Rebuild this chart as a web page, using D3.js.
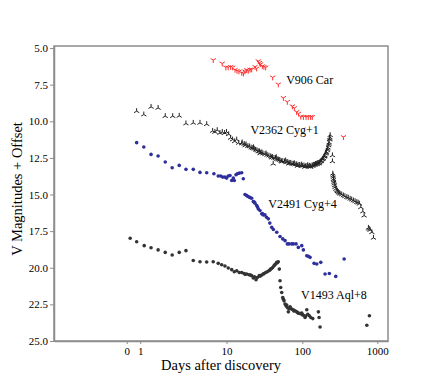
<!DOCTYPE html>
<html>
<head>
<meta charset="utf-8">
<script src="https://cdn.jsdelivr.net/npm/d3@7"></script>
<style>
body { margin: 0; background: #fff; }
text { font-family: "Liberation Serif", "DejaVu Serif", serif; fill: #000; }
</style>
</head>
<body>
<div id="chart"></div>
<script>
// light curves: [days after discovery, V magnitude]
var v906Car = [[6.75,5.82],[8.8,6.05],[9.8,6.32],[10.5,6.32],[11.3,6.28],[12.0,6.32],[12.9,6.48],[13.7,6.55],
	[14.5,6.59],[15.8,6.69],[16.6,6.73],[17.4,6.59],[18.3,6.50],[19.2,6.55],[20.3,6.46],[21.3,6.46],[23.6,6.28],
	[24.8,6.39],[26.0,5.89],[27.0,6.0],[28.0,6.09],[29.4,6.23],[30.9,6.28],[32.6,6.32],[40.4,7.00],[47.9,7.48],
	[55.9,8.40],[63.1,8.67],[73.6,8.97],[78.2,9.09],[84,9.36],[89.1,9.47],[95.3,9.68],[103.2,9.70],[112,9.70],
	[120,9.70],[129,9.70],[135.7,9.70],[353,11.07]];

var v2362Cyg = [[0.93,8.31],[1.08,8.54],[1.27,8.02],[1.50,8.09],[1.79,8.65],[2.17,8.65],[2.58,8.63],[3.10,9.15],
	[3.80,9.11],[4.60,9.11],[5.58,9.20],[6.64,9.66],[7.09,9.73],[7.59,9.61],[8.23,9.80],[8.81,9.73],[9.46,9.80],
	[10.0,9.73],[10.66,9.89],[11.3,10.14],[12.0,10.25],[12.76,10.37],[13.56,10.25],[14.4,10.48],[15.76,10.52],
	[16,10.45],[17,10.55],[17.5,10.65],[18,10.58],[19,10.70],[20,10.72],[21,10.80],[22,10.84],[22.5,10.78],
	[23,10.88],[24,10.95],[25,10.98],[26,11.05],[27,11.06],[27.5,11.18],[28,11.15],[29,11.12],[30,11.20],
	[32,11.24],[33,11.20],[34,11.30],[36,11.35],[38,11.40],[39,11.48],[40,11.44],[41,11.90],[42,11.50],
	[44,11.52],[45,11.45],[46,11.58],[48,11.62],[50,11.64],[52,11.70],[53,11.76],[55,11.72],[58,11.74],
	[60,11.68],[61,11.80],[64,11.78],[66,11.90],[67,11.85],[70,11.84],[73,11.90],[76,11.92],[78,11.86],
	[80,11.95],[84,11.94],[86,12.05],[88,12.00],[92,11.98],[96,12.03],[98,11.96],[100,12.05],[105,12.02],
	[108,12.12],[110,12.08],[115,12.06],[118,12.00],[120,12.10],[125,12.04],[128,12.12],[130,12.08],
	[135,12.02],[138,12.05],[140,11.98],[145,11.97],[148,11.98],[150,11.92],[155,11.90],[158,11.94],
	[160,11.86],[165,11.85],[168,11.88],[170,11.80],[175,11.75],[178,11.72],[180,11.68],[185,11.60],
	[188,11.58],[190,11.52],[195,11.42],[198,11.40],[200,11.34],[205,11.22],[208,11.16],[210,11.10],
	[215,10.98],[218,10.90],[220,10.80],[224,10.65],[226,10.55],[228,10.45],[231,10.25],[232,10.20],
	[233,10.10],[235,9.95],[252,11.33],[252,11.74],[255,12.58],[257,12.70],[259,12.81],[260,12.95],
	[262,13.04],[265,13.15],[267,13.26],[270,13.38],[273,13.50],[280,13.62],[288,13.72],[295,13.78],
	[302,13.84],[310,13.90],[319,13.95],[335,14.00],[353,14.07],[370,14.12],[392,14.18],[410,14.22],
	[434,14.29],[455,14.35],[480,14.41],[505,14.46],[533,14.52],[555,14.56],[577,14.63],[603,14.87],
	[641,15.16],[667,15.44],[761,16.28],[780,16.35],[803,16.42],[846,16.58],[889,16.96]];

var v2491Cyg = [[0.93,7.46],[1.08,7.76],[1.27,8.26],[1.50,8.37],[1.79,8.78],[2.14,9.17],[2.58,9.01],[3.10,9.28],
	[3.80,9.28],[4.60,9.49],[5.58,9.51],[6.89,9.58],[7.82,9.74],[8.40,9.74],[8.92,9.81],[9.54,9.81],[10.04,9.88],
	[10.53,9.74],[11.09,9.70],[11.67,10.04],[12.24,9.88],[12.61,10.04],[13.28,9.65],[13.80,9.58],[14.64,9.54],
	[15.76,9.51],[16.54,9.92],[17.40,11.00],[18.32,11.07],[18.8,11.12],[19.80,11.18],[20.5,11.22],[21.3,11.25],
	[22.38,11.48],[23.0,11.52],[23.56,11.59],[24.81,11.75],[25.4,11.85],[26.05,11.98],[27.4,12.09],[28.88,12.32],
	[29.5,12.30],[30.3,12.39],[31.9,12.39],[33.5,12.55],[35.3,12.66],[37,12.95],[39.2,13.24],[41.2,13.39],
	[45.7,13.58],[50.5,13.87],[54.9,14.03],[58.9,14.15],[63.2,14.37],[66.5,14.37],[72.3,14.37],[75.9,14.37],
	[82.5,14.37],[88.5,14.61],[98.3,14.49],[103.3,14.78],[114.6,15.18],[120.3,15.22],[126.8,15.29],
	[143.4,15.70],[155.8,15.74],[176.1,15.63],[200.8,16.43],[229.1,16.39],[279,16.59],[361,15.40]];

var v1493Aql = [[0.82,9.99],[0.93,10.22],[1.09,10.49],[1.27,10.63],[1.50,10.78],[1.79,10.95],[2.14,11.13],
	[2.58,10.95],[3.10,10.83],[3.80,11.50],[4.60,11.59],[5.58,11.61],[6.75,11.59],[7.82,11.70],[8.66,11.79],
	[9.54,11.88],[10.53,12.02],[11.67,12.13],[12.61,12.27],[13.56,12.20],[14.64,12.32],[15.76,12.32],
	[16.89,12.39],[17.5,12.45],[18.32,12.43],[19.64,12.48],[20.5,12.50],[21.3,12.54],[22.38,12.70],
	[23.2,12.62],[24.3,12.82],[25.27,12.66],[26.8,12.54],[27.5,12.58],[28.88,12.50],[30.3,12.43],[31,12.40],
	[32.6,12.32],[34.2,12.27],[36.0,12.20],[37,12.15],[38.0,12.09],[39,12.05],[40.4,11.98],[42.0,11.86],
	[43,11.80],[44.2,11.74],[45.7,11.63],[46.5,11.66],[47.9,11.59],[49.4,12.09],[50.5,12.89],[51.6,13.35],
	[53.2,13.69],[54.9,14.03],[56,14.15],[57.1,14.26],[58.9,14.48],[60.7,14.60],[62,14.55],[63.2,14.72],
	[65.1,15.01],[66.5,14.80],[68.6,14.67],[70,14.75],[72.3,14.83],[75.9,14.87],[77,14.95],[79.9,14.94],
	[84.2,15.01],[86,15.05],[88.5,15.10],[93.3,15.13],[95,15.12],[98.3,15.10],[100,15.20],[103.3,15.24],
	[108.7,15.40],[111,15.30],[114.6,14.87],[118.1,15.17],[124,15.28],[129.6,15.40],[137.8,15.47],
	[163.6,15.01],[167.2,15.40],[172.3,16.04],[725,15.92],[785,15.28]];

var seriesData = [v906Car, v2362Cyg, v2491Cyg, v1493Aql];
var seriesNames = ['V906 Car', 'V2362 Cyg', 'V2491 Cyg', 'V1493 Aql'];
var seriesOffsets = [0, 1, 4, 8];
var seriesColors = ['#ff2a2a', '#222222', '#2e2e9c', '#333333'];
var seriesMarkers = ['triDown', 'triUp', 'dot', 'dot'];
// label anchor in plot units [days, magnitude + offset]
var labelPos = [[61, 7.46], [20.5, 10.9], [35.3, 15.9], [96, 22.1]];

// the source axis is stretched: "0" sits left of "1" on a shifted log scale
var xTickDays = [0.77, 1, 10, 100, 1000];
var xTickLabels = ['0', '1', '10', '100', '1000'];
var yTicks = [5, 7.5, 10, 12.5, 15, 17.5, 20, 22.5, 25];

var DAY_SHIFT = 0.32;
var W = 432, H = 390;

var svg = d3.select('#chart').append('svg')
	.attr('width', W)
	.attr('height', H);

var x = d3.scaleLog().domain([0.048, 1390]).range([54, 388]);
var y = d3.scaleLinear().domain([4.86, 25]).range([46, 341]);
function xPos(d) { return x(d - DAY_SHIFT); }

// frame
svg.append('rect')
	.attr('x', 54).attr('y', 46)
	.attr('width', 334).attr('height', 295)
	.style('fill', 'none')
	.attr('stroke', '#8c8c8c')
	.attr('stroke-width', 1.5);

var xAxis = d3.axisBottom(x)
	.tickValues(xTickDays.map(function(d) { return d - DAY_SHIFT; }))
	.tickFormat(function(d, i) { return xTickLabels[i]; })
	.tickSize(3).tickSizeOuter(0).tickPadding(3);

var yAxis = d3.axisLeft(y)
	.tickValues(yTicks)
	.tickFormat(d3.format('.1f'))
	.tickSize(4).tickSizeOuter(0).tickPadding(2);

var gx = svg.append('g').attr('transform', 'translate(0,341)').call(xAxis);
var gy = svg.append('g').attr('transform', 'translate(54,0)').call(yAxis);

[gx, gy].forEach(function(g) {
	g.select('.domain').attr('stroke', '#8c8c8c').attr('stroke-width', 1.5);
	g.selectAll('.tick line').attr('stroke', '#8c8c8c');
	g.selectAll('.tick text')
		.attr('font-family', '"Liberation Serif", serif')
		.attr('font-size', '11px')
		.attr('fill', '#000');
});

function markerPath(type) {
	var r = 3;
	var c = 0.866 * r, s = 0.5 * r;
	if (type === 'triDown')
		return 'M0,0L0,' + r + 'M0,0L' + (-c) + ',' + (-s) + 'M0,0L' + c + ',' + (-s);
	return 'M0,0L0,' + (-r) + 'M0,0L' + (-c) + ',' + s + 'M0,0L' + c + ',' + s;
}

var plot = svg.append('g');

seriesData.forEach(function(data, i) {
	var g = plot.append('g');
	var off = seriesOffsets[i];
	if (seriesMarkers[i] === 'dot') {
		g.selectAll('circle')
			.data(data)
			.enter()
			.append('circle')
			.attr('cx', function(d) { return xPos(d[0]); })
			.attr('cy', function(d) { return y(d[1] + off); })
			.attr('r', 1.8)
			.style('fill', seriesColors[i]);
	} else {
		g.selectAll('path')
			.data(data)
			.enter()
			.append('path')
			.attr('transform', function(d) {
				return 'translate(' + xPos(d[0]) + ',' + y(d[1] + off) + ')';
			})
			.attr('d', markerPath(seriesMarkers[i]))
			.attr('fill', 'none')
			.attr('stroke', seriesColors[i])
			.attr('stroke-width', 1);
	}
	svg.append('text')
		.attr('x', xPos(labelPos[i][0]))
		.attr('y', y(labelPos[i][1]))
		.attr('font-size', '12px')
		.text(seriesNames[i] + (off ? '+' + off : ''));
});

svg.append('text')
	.attr('x', 221)
	.attr('y', 370)
	.attr('text-anchor', 'middle')
	.attr('font-size', '14.5px')
	.text('Days after discovery');

svg.append('text')
	.attr('transform', 'translate(22,189) rotate(-90)')
	.attr('text-anchor', 'middle')
	.attr('font-size', '14.5px')
	.text('V Magnitudes + Offset');
</script>
</body>
</html>
